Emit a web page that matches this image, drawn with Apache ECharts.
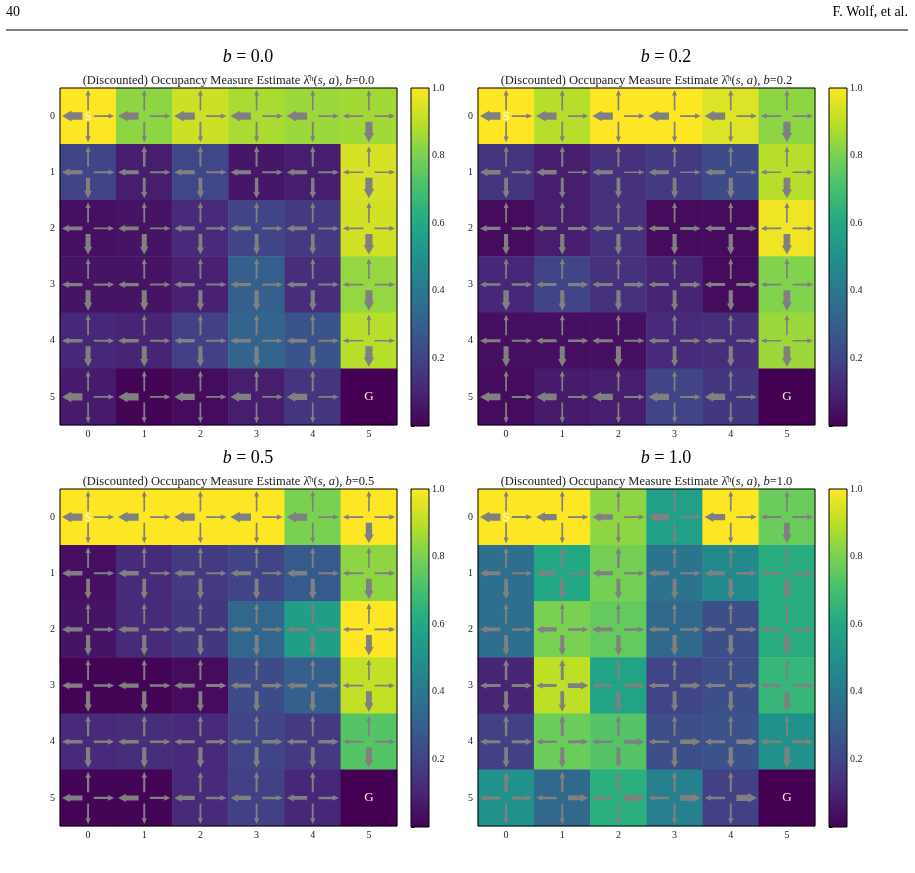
<!DOCTYPE html>
<html>
<head>
<meta charset="utf-8">
<script src="https://cdn.jsdelivr.net/npm/echarts@6/dist/echarts.min.js"></script>
<style>
  html, body { margin: 0; padding: 0; background: #fff; }
  #chart { width: 915px; height: 873px; }
</style>
</head>
<body>
<div id="chart"></div>
<script>
// grid world 6x6, one panel per value of b
const cols = ['0', '1', '2', '3', '4', '5'];
const rows = ['0', '1', '2', '3', '4', '5'];
const bLabels = ['0.0', '0.2', '0.5', '1.0'];
const cbTicks = [0.2, 0.4, 0.6, 0.8, 1.0];

// occupancy estimate per cell, row by row (row 0 on top)
const occB00 = [
    [1.00, 0.83, 0.92, 0.87, 0.85, 0.86],
    [0.20, 0.08, 0.21, 0.06, 0.08, 0.94],
    [0.04, 0.05, 0.12, 0.20, 0.17, 0.93],
    [0.05, 0.05, 0.09, 0.30, 0.13, 0.84],
    [0.11, 0.10, 0.19, 0.32, 0.26, 0.89],
    [0.07, 0.01, 0.03, 0.08, 0.15, 0.00]
];
const occB02 = [
    [1.00, 0.89, 1.00, 1.00, 0.95, 0.83],
    [0.15, 0.08, 0.14, 0.17, 0.23, 0.89],
    [0.03, 0.08, 0.14, 0.03, 0.03, 0.98],
    [0.11, 0.20, 0.14, 0.10, 0.03, 0.81],
    [0.04, 0.04, 0.04, 0.12, 0.13, 0.85],
    [0.03, 0.07, 0.08, 0.20, 0.16, 0.00]
];
const occB05 = [
    [1.00, 1.00, 1.00, 1.00, 0.80, 1.00],
    [0.04, 0.12, 0.17, 0.20, 0.28, 0.83],
    [0.05, 0.12, 0.16, 0.33, 0.55, 1.00],
    [0.01, 0.01, 0.03, 0.23, 0.30, 0.91],
    [0.12, 0.13, 0.12, 0.20, 0.17, 0.73],
    [0.01, 0.01, 0.12, 0.19, 0.11, 0.00]
];
const occB10 = [
    [1.00, 1.00, 0.83, 0.56, 1.00, 0.77],
    [0.36, 0.60, 0.79, 0.38, 0.47, 0.62],
    [0.36, 0.80, 0.76, 0.34, 0.24, 0.62],
    [0.10, 0.90, 0.58, 0.20, 0.24, 0.66],
    [0.19, 0.77, 0.73, 0.24, 0.25, 0.50],
    [0.50, 0.34, 0.63, 0.43, 0.19, 0.00]
];

// action probabilities per cell: [up, down, left, right]
const polB00 = [
    [[.05, .10, .75, .05], [.05, .08, .72, .06], [.05, .08, .72, .06], [.05, .08, .72, .06], [.05, .08, .72, .06], [.05, .70, .06, .06]],
    [[.08, .35, .35, .08], [.15, .20, .30, .08], [.10, .30, .30, .08], [.10, .25, .30, .08], [.10, .25, .30, .08], [.05, .70, .06, .06]],
    [[.07, .45, .30, .08], [.07, .45, .30, .08], [.08, .30, .30, .12], [.08, .30, .30, .12], [.08, .30, .30, .10], [.05, .70, .06, .06]],
    [[.07, .45, .25, .12], [.07, .45, .25, .10], [.08, .35, .25, .10], [.08, .35, .25, .12], [.08, .35, .25, .10], [.05, .70, .06, .06]],
    [[.07, .45, .25, .08], [.07, .45, .25, .08], [.08, .35, .25, .08], [.10, .35, .25, .10], [.10, .35, .25, .10], [.05, .70, .06, .06]],
    [[.06, .06, .72, .08], [.06, .06, .72, .08], [.06, .06, .60, .08], [.10, .06, .60, .08], [.10, .06, .60, .08], [0, 0, 0, 0]]
];
const polB02 = [
    [[.05, .05, .75, .08], [.05, .06, .72, .06], [.05, .06, .70, .06], [.05, .06, .70, .06], [.05, .06, .70, .06], [.05, .70, .06, .06]],
    [[.06, .30, .40, .08], [.10, .20, .40, .06], [.08, .30, .30, .06], [.08, .30, .30, .06], [.08, .35, .30, .06], [.05, .65, .06, .06]],
    [[.06, .35, .25, .15], [.08, .35, .25, .20], [.08, .35, .25, .20], [.06, .35, .25, .20], [.06, .35, .25, .20], [.05, .65, .06, .06]],
    [[.06, .50, .15, .15], [.06, .35, .20, .25], [.06, .35, .20, .25], [.06, .30, .20, .25], [.06, .35, .20, .20], [.05, .65, .06, .06]],
    [[.06, .45, .20, .12], [.06, .45, .20, .15], [.06, .45, .20, .12], [.10, .30, .20, .15], [.06, .35, .20, .15], [.05, .65, .06, .06]],
    [[.06, .06, .65, .10], [.06, .06, .65, .10], [.06, .06, .60, .10], [.06, .06, .60, .10], [.06, .06, .60, .10], [0, 0, 0, 0]]
];
const polB05 = [
    [[.05, .06, .72, .06], [.05, .06, .72, .06], [.05, .06, .72, .06], [.05, .06, .72, .06], [.05, .06, .72, .06], [.05, .60, .06, .06]],
    [[.08, .30, .40, .10], [.08, .30, .40, .08], [.08, .30, .35, .08], [.08, .30, .35, .08], [.08, .35, .40, .08], [.05, .55, .08, .08]],
    [[.08, .35, .35, .15], [.08, .35, .35, .15], [.08, .30, .30, .15], [.08, .30, .30, .15], [.08, .30, .25, .15], [.05, .55, .08, .08]],
    [[.08, .35, .35, .15], [.08, .35, .35, .15], [.08, .30, .30, .20], [.08, .30, .30, .25], [.08, .30, .30, .25], [.05, .55, .08, .08]],
    [[.12, .35, .25, .15], [.12, .35, .25, .15], [.10, .35, .20, .20], [.08, .30, .20, .25], [.08, .30, .20, .25], [.05, .55, .08, .08]],
    [[.12, .08, .45, .12], [.10, .08, .45, .12], [.10, .08, .35, .15], [.10, .08, .35, .15], [.10, .08, .30, .15], [0, 0, 0, 0]]
];
const polB10 = [
    [[.05, .06, .72, .10], [.05, .06, .60, .08], [.06, .08, .50, .08], [.05, .06, .60, .06], [.05, .06, .60, .08], [.05, .55, .10, .10]],
    [[.10, .30, .35, .12], [.12, .30, .35, .10], [.15, .30, .35, .10], [.08, .30, .35, .10], [.08, .35, .35, .15], [.06, .45, .15, .15]],
    [[.08, .30, .30, .15], [.08, .30, .35, .15], [.08, .35, .30, .15], [.08, .35, .25, .15], [.08, .35, .25, .20], [.06, .45, .15, .15]],
    [[.15, .30, .20, .20], [.20, .30, .20, .40], [.10, .30, .15, .25], [.10, .30, .20, .30], [.10, .30, .20, .25], [.06, .45, .15, .15]],
    [[.15, .30, .20, .20], [.20, .30, .15, .20], [.12, .30, .15, .35], [.08, .30, .15, .40], [.08, .35, .20, .40], [.06, .45, .15, .20]],
    [[.25, .10, .20, .20], [.15, .08, .15, .40], [.12, .08, .15, .50], [.12, .08, .15, .50], [.10, .08, .15, .60], [0, 0, 0, 0]]
];

const viridis = ['#440154', '#482475', '#414487', '#355f8d', '#2a788e', '#21918c',
    '#22a884', '#44bf70', '#7ad151', '#bddf26', '#fde725'];

const serif = "'Liberation Serif', 'DejaVu Serif', serif";

const panels = [
    {occ: occB00, pol: polB00, left: 60, top: 88, cbLeft: 411, titleX: 248},
    {occ: occB02, pol: polB02, left: 478, top: 88, cbLeft: 829, titleX: 666},
    {occ: occB05, pol: polB05, left: 60, top: 489, cbLeft: 411, titleX: 248},
    {occ: occB10, pol: polB10, left: 478, top: 489, cbLeft: 829, titleX: 666}
];
const SIZE = 337;

function heatData(occ) {
    let out = [];
    for (let r = 0; r < occ.length; r++) {
        for (let c = 0; c < occ[r].length; c++) {
            out.push([c, r, occ[r][c]]);
        }
    }
    return out;
}

function arrowData(pol) {
    let out = [];
    for (let r = 0; r < pol.length; r++) {
        for (let c = 0; c < pol[r].length; c++) {
            let p = pol[r][c];
            if (p[0] + p[1] + p[2] + p[3] === 0) continue; // goal
            out.push([c, r, p[0], p[1], p[2], p[3]]);
        }
    }
    return out;
}

function renderArrows(params, api) {
    const ctr = api.coord([api.value(0), api.value(1)]);
    const sz = api.size([1, 1]);
    const cell = Math.min(sz[0], sz[1]);
    // [dx, dy, value index] for up, down, left, right
    const dirs = [[0, -1, 2], [0, 1, 3], [-1, 0, 4], [1, 0, 5]];
    const r0 = cell * 0.1, r1 = cell * 0.465;
    const children = dirs.map(([dx, dy, k]) => {
        const p = api.value(k);
        const w = cell * (0.022 + p * 0.15);
        const hw = w + cell * 0.06;
        const hl = cell * (0.095 + p * 0.1);
        const pts = [[r0, -w / 2], [r1 - hl, -w / 2], [r1 - hl, -hw / 2], [r1, 0],
            [r1 - hl, hw / 2], [r1 - hl, w / 2], [r0, w / 2]];
        return {
            type: 'polygon',
            shape: {points: pts.map(([t, n]) => [ctr[0] + dx * t - dy * n, ctr[1] + dy * t + dx * n])},
            style: {fill: '#808080'}
        };
    });
    return {type: 'group', children: children};
}

function renderFrame(params, api) {
    const a = api.coord([0, 0]);
    const sz = api.size([1, 1]);
    return {
        type: 'rect',
        shape: {x: a[0] - sz[0] / 2, y: a[1] - sz[1] / 2, width: sz[0] * 6, height: sz[1] * 6},
        style: {fill: null, stroke: '#000', lineWidth: 1}
    };
}

function renderColorbar(params, api) {
    const p0 = api.coord([0, 0]);
    const p1 = api.coord([1, 1]);
    return {
        type: 'rect',
        shape: {x: p0[0], y: p1[1], width: p1[0] - p0[0], height: p0[1] - p1[1]},
        style: {
            fill: {
                type: 'linear', x: 0, y: 1, x2: 0, y2: 0,
                colorStops: viridis.map((c, i) => ({offset: i / (viridis.length - 1), color: c}))
            },
            stroke: '#000',
            lineWidth: 1
        }
    };
}

let grids = [], xAxes = [], yAxes = [], series = [], graphics = [], heatIdx = [];

panels.forEach((pn, i) => {
    grids.push({left: pn.left, top: pn.top, width: SIZE, height: SIZE});
    grids.push({left: pn.cbLeft, top: pn.top, width: 18, height: SIZE + 1});

    xAxes.push({
        type: 'category', gridIndex: 2 * i, data: cols,
        axisLine: {show: false},
        axisTick: {alignWithLabel: true, length: 3.5, lineStyle: {color: '#000'}},
        axisLabel: {fontSize: 10, color: '#222', fontFamily: serif, margin: 4},
        splitLine: {show: false}
    });
    xAxes.push({type: 'value', gridIndex: 2 * i + 1, min: 0, max: 1, show: false});

    yAxes.push({
        type: 'category', gridIndex: 2 * i, data: rows, inverse: true,
        axisLine: {show: false},
        axisTick: {alignWithLabel: true, length: 3.5, lineStyle: {color: '#000'}},
        axisLabel: {fontSize: 10, color: '#222', fontFamily: serif, margin: 5},
        splitLine: {show: false}
    });
    yAxes.push({
        type: 'value', gridIndex: 2 * i + 1, min: 0, max: 1, interval: 0.2, position: 'right',
        axisLine: {show: false},
        axisTick: {show: true, length: 3.5, lineStyle: {color: '#000'}},
        axisLabel: {
            fontSize: 10, color: '#222', fontFamily: serif, margin: 3,
            formatter: v => cbTicks.indexOf(Math.round(v * 10) / 10) >= 0 ? v.toFixed(1) : ''
        },
        splitLine: {show: false}
    });

    heatIdx.push(series.length);
    series.push({
        type: 'heatmap', xAxisIndex: 2 * i, yAxisIndex: 2 * i,
        data: heatData(pn.occ),
        label: {
            show: true,
            fontFamily: serif, fontSize: 13, color: '#fffbe6',
            formatter: p => (p.data[0] === 0 && p.data[1] === 0) ? 'S'
                : (p.data[0] === 5 && p.data[1] === 5) ? 'G' : ''
        },
        emphasis: {disabled: true}
    });
    series.push({
        type: 'custom', xAxisIndex: 2 * i, yAxisIndex: 2 * i,
        data: arrowData(pn.pol), renderItem: renderArrows, z: 3, silent: true
    });
    series.push({
        type: 'custom', xAxisIndex: 2 * i, yAxisIndex: 2 * i,
        data: [[0, 0]], renderItem: renderFrame, z: 5, silent: true
    });
    series.push({
        type: 'custom', xAxisIndex: 2 * i + 1, yAxisIndex: 2 * i + 1,
        data: [[0, 0]], renderItem: renderColorbar, silent: true
    });

    const tY = pn.top - 31, sY = pn.top - 7;
    graphics.push({
        type: 'text', x: pn.titleX, y: tY,
        style: {
            text: '{i|b} = ' + bLabels[i],
            rich: {i: {fontStyle: 'italic', fontSize: 18, fontFamily: serif}},
            fontSize: 18, fontFamily: serif, fill: '#000',
            textAlign: 'center', textVerticalAlign: 'middle'
        }
    });
    graphics.push({
        type: 'text', x: pn.left + SIZE / 2, y: sY,
        style: {
            text: '(Discounted) Occupancy Measure Estimate \u03bb\u0302{sup|\u03c0}({i|s, a}), {i|b}=' + bLabels[i],
            rich: {
                i: {fontStyle: 'italic', fontSize: 12.5, fontFamily: serif},
                sup: {fontSize: 8, fontFamily: serif, verticalAlign: 'top', padding: [0, 0, 5, 0]}
            },
            fontSize: 12.5, fontFamily: serif, fill: '#222',
            textAlign: 'center', textVerticalAlign: 'middle'
        }
    });
});

// page header
graphics.push({type: 'text', x: 6, y: 12, style: {text: '40', fontSize: 14, fontFamily: serif, fill: '#000', textVerticalAlign: 'middle'}});
graphics.push({type: 'text', x: 908, y: 12, style: {text: 'F. Wolf, et al.', fontSize: 14, fontFamily: serif, fill: '#000', textAlign: 'right', textVerticalAlign: 'middle'}});
graphics.push({type: 'line', shape: {x1: 6, y1: 30, x2: 908, y2: 30}, style: {stroke: '#000', lineWidth: 1}});

let myChart = echarts.init(document.getElementById('chart'));
myChart.setOption({
    animation: false,
    backgroundColor: '#fff',
    grid: grids,
    xAxis: xAxes,
    yAxis: yAxes,
    visualMap: {
        type: 'continuous', show: false, min: 0, max: 1,
        seriesIndex: heatIdx,
        inRange: {color: viridis}
    },
    series: series,
    graphic: graphics
});
</script>
</body>
</html>
